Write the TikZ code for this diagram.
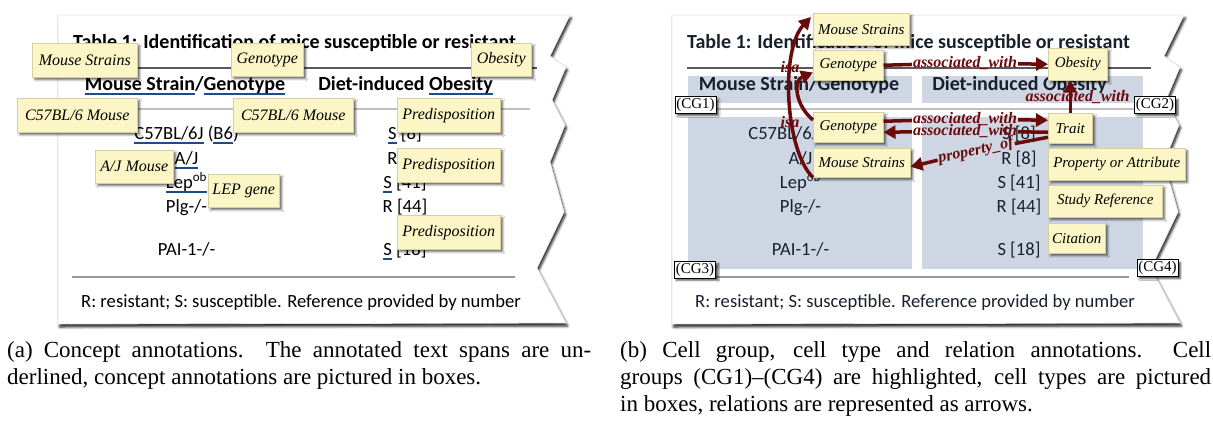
\documentclass[tikz,border=0pt]{standalone}
\usepackage{fontspec}
\setmainfont{Liberation Serif}
\newfontfamily\tabfont{Carlito}
\usetikzlibrary{arrows.meta,shadows.blur}

\definecolor{boxfill}{HTML}{FCF6C6}
\definecolor{boxline}{HTML}{D6CFA0}
\definecolor{ulblue}{HTML}{1E4A8A}
\definecolor{cgshade}{HTML}{CDD6E2}
\definecolor{relred}{HTML}{6B0A0A}
\definecolor{inkb}{HTML}{18202E}

% underline for annotated text spans
\newcommand\spanline[1]{\setbox0\hbox{#1}\rlap{\color{ulblue}\rule[-5.2pt]{\wd0}{2.2pt}}#1}
\newcommand\nospan[1]{#1}

\tikzset{
  ttitle/.style={anchor=base west, inner sep=0pt, font=\tabfont\bfseries\fontsize{20}{24}\selectfont},
  thead/.style={anchor=base, inner sep=0pt, font=\tabfont\bfseries\fontsize{20}{24}\selectfont},
  tcell/.style={anchor=base, inner sep=0pt, font=\tabfont\fontsize{18.6}{22}\selectfont},
  tfoot/.style={anchor=base west, inner sep=0pt, font=\tabfont\fontsize{18.6}{22}\selectfont},
  paper/.style={fill=white, draw=black!10, line width=0.8pt,
    blur shadow={shadow xshift=1.5pt, shadow yshift=-3pt, shadow blur radius=2.5pt, shadow opacity=90}},
  rulea/.style={draw=black!65, line width=1.2pt},
  ruleb/.style={draw=black!25, line width=1.2pt},
  rulec/.style={draw=black!40, line width=1.2pt},
  cbox/.style={draw=boxline, line width=0.5pt, fill=boxfill, inner sep=0pt, anchor=north west,
    blur shadow={shadow xshift=2.5pt, shadow yshift=-2.5pt, shadow blur radius=2pt, shadow opacity=60}},
  abox/.style={cbox, font=\itshape\fontsize{16}{16}\selectfont},
  bbox/.style={cbox, font=\itshape\fontsize{15}{15}\selectfont},
  cgtag/.style={draw=black, line width=0.6pt, fill=white, inner sep=1.5pt, font=\fontsize{15}{15}\selectfont,
    blur shadow={shadow xshift=2.5pt, shadow yshift=-2.5pt, shadow blur radius=1.5pt, shadow opacity=65}},
  rel/.style={draw=relred, line width=3.5pt},
  relto/.style={rel, -{Triangle[length=12pt,width=13pt]}},
  rellab/.style={text=relred, inner sep=1pt, font=\bfseries\itshape\fontsize{16}{16}\selectfont},
  captext/.style={anchor=base west, inner sep=0pt, font=\fontsize{23}{27}\selectfont},
}

% torn sheet of paper
\newcommand\drawpaper{%
  \path[paper] (58,15) -- (570,15) -- (550,56) -- (566,67) -- (552,100) -- (565,125) -- (550,162)
    -- (564,212) -- (537,268) -- (566,323) -- (58,324) -- cycle;}

% the table printed on the sheet: #1 name prefix, #2 ink colour, #3 span marker
\newcommand\tablecontent[3]{%
  \draw[rulea] (73,68) -- (537,68);
  \draw[ruleb] (73,109) -- (530,109);
  \draw[rulec] (72,277) -- (515,277);
  \node[ttitle, text=#2] (#1title) at (73,48) {Table 1: Identification of mice susceptible or resistant};
  \node[thead, text=#2] (#1hstrain) at (185,90) {#3{Mouse Strain}/#3{Genotype}};
  \node[thead, text=#2] (#1hdiet) at (405.5,90) {Diet-induced #3{Obesity}};
  \node[tcell, text=#2] (#1ra1) at (186.5,139) {#3{C57BL/6J} (#3{B6})};
  \node[tcell, text=#2] (#1ra2) at (186.5,164) {#3{A/J}};
  \node[tcell, text=#2] (#1ra3) at (186.5,188) {#3{Lep\textsuperscript{ob}}};
  \node[tcell, text=#2] (#1ra4) at (186.5,212) {Plg-/-};
  \node[tcell, text=#2] (#1ra5) at (186.5,255) {PAI-1-/-};
  \node[tcell, text=#2] (#1rb1) at (405,139) {#3{S} [8]};
  \node[tcell, text=#2] (#1rb2) at (405,164) {R [8]};
  \node[tcell, text=#2] (#1rb3) at (405,188) {#3{S} [41]};
  \node[tcell, text=#2] (#1rb4) at (405,212) {R [44]};
  \node[tcell, text=#2] (#1rb5) at (405,255) {#3{S} [18]};
  \node[tfoot, text=#2] (#1foot) at (81,307) {R: resistant; S: susceptible. Reference provided by number};
}

\begin{document}
\begin{tikzpicture}[x=1pt, y=-1pt]
\useasboundingbox (0,0) rectangle (1213,421);

% ---------- (a) concept annotations ----------
\drawpaper
\tablecontent{a}{black}{\spanline}

\node[abox, minimum width=105pt, minimum height=34pt] (ams)   at (32,43)  {Mouse Strains};
\node[abox, minimum width=72pt,  minimum height=33pt] (agt)   at (231,43) {Genotype};
\node[abox, minimum width=60pt,  minimum height=33pt] (aob)   at (471,43) {Obesity};
\node[abox, minimum width=120pt, minimum height=34pt] (ac57l) at (17,98)  {C57BL/6 Mouse};
\node[abox, minimum width=120pt, minimum height=34pt] (ac57m) at (233,98) {C57BL/6 Mouse};
\node[abox, minimum width=103pt, minimum height=34pt] (apr1)  at (397,98) {Predisposition};
\node[abox, minimum width=78pt,  minimum height=33pt] (aaj)   at (95,150) {A/J Mouse};
\node[abox, minimum width=103pt, minimum height=34pt] (apr2)  at (397,148) {Predisposition};
\node[abox, minimum width=71pt,  minimum height=33pt] (alep)  at (208,174) {LEP gene};
\node[abox, minimum width=103pt, minimum height=34pt] (apr3)  at (397,215) {Predisposition};

% ---------- (b) cell groups, cell types, relations ----------
\begin{scope}[xshift=614pt]
  \drawpaper
  \fill[cgshade] (74,76) rectangle (298,103);
  \fill[cgshade] (308,76) rectangle (529,103);
  \fill[cgshade] (74,117) rectangle (298,269);
  \fill[cgshade] (308,117) rectangle (529,269);
  \tablecontent{b}{inkb}{\nospan}
\end{scope}

\node[cgtag] (cg1) at (695.5,105) {(CG1)};
\node[cgtag] (cg2) at (1155,105) {(CG2)};
\node[cgtag] (cg3) at (695,269.5) {(CG3)};
\node[cgtag] (cg4) at (1157.5,268) {(CG4)};

\node[bbox, minimum width=96pt,  minimum height=32pt] (bms1) at (813,13)   {Mouse Strains};
\node[bbox, minimum width=70pt,  minimum height=30pt] (bgt1) at (813,50)   {Genotype};
\node[bbox, minimum width=59pt,  minimum height=32pt] (bob)  at (1048,48)  {Obesity};
\node[bbox, minimum width=70pt,  minimum height=30pt] (bgt2) at (813,112)  {Genotype};
\node[bbox, minimum width=44pt,  minimum height=30pt] (btr)  at (1048,113) {Trait};
\node[bbox, minimum width=97pt,  minimum height=29pt] (bms2) at (813,148)  {Mouse Strains};
\node[bbox, minimum width=137pt, minimum height=32pt] (bpa)  at (1048,148) {Property or Attribute};
\node[bbox, minimum width=114pt, minimum height=32pt] (bsr)  at (1048,185) {Study Reference};
\node[bbox, minimum width=57pt,  minimum height=30pt] (bci)  at (1048,223) {Citation};

% relations
\draw[relto] (bms2.south west) .. controls +(-28,-27) and +(-31,33) .. ([xshift=-2pt,yshift=-4pt]bms1.north west);
\draw[relto] ([yshift=-8pt]bgt2.north west) .. controls +(-18,-15) and +(-20,8) .. ([yshift=8pt]bgt1.south west);
\node[rellab] (isa1) at (790,67) {isa};
\node[rellab] (isa2) at (790,122) {isa};

\node[rellab] (aw1) at (965,63) {associated\_with};
\draw[rel] (bgt1.east) -- (aw1);
\draw[relto] (aw1) -- (bob.west);

\draw[relto] (btr.north) -- (btr.north |- bob.south);
\node[rellab] (aw2) at (1077.5,97) {associated\_with};

\node[rellab] (aw3) at (965,119) {associated\_with};
\draw[rel] ([yshift=6pt]bgt2.east) -- (aw3);
\draw[relto] (aw3) -- ([yshift=8pt]btr.west);

\node[rellab] (aw4) at (965,131) {associated\_with};
\draw[rel] ([yshift=-4pt]btr.west) -- (aw4);
\draw[relto] (aw4) -- ([yshift=-5pt]bgt2.east);

\node[rellab, rotate=12] (po) at (976,151) {property\_of};
\draw[rel] ([yshift=-9pt]btr.west) -- (po);
\draw[relto] (po) -- ([yshift=-4pt]bms2.east);

% ---------- captions ----------
\node[captext] (capa1) at (7,357) {\makebox[584pt][s]{(a) Concept annotations.\ \ The annotated text spans are un-}};
\node[captext] (capa2) at (7,384) {derlined, concept annotations are pictured in boxes.};
\node[captext] (capb1) at (620,357) {\makebox[591pt][s]{(b) Cell group, cell type and relation annotations.\ \ Cell}};
\node[captext] (capb2) at (620,384) {\makebox[591pt][s]{groups (CG1)--(CG4) are highlighted, cell types are pictured}};
\node[captext] (capb3) at (620,411) {in boxes, relations are represented as arrows.};
\end{tikzpicture}
\end{document}
